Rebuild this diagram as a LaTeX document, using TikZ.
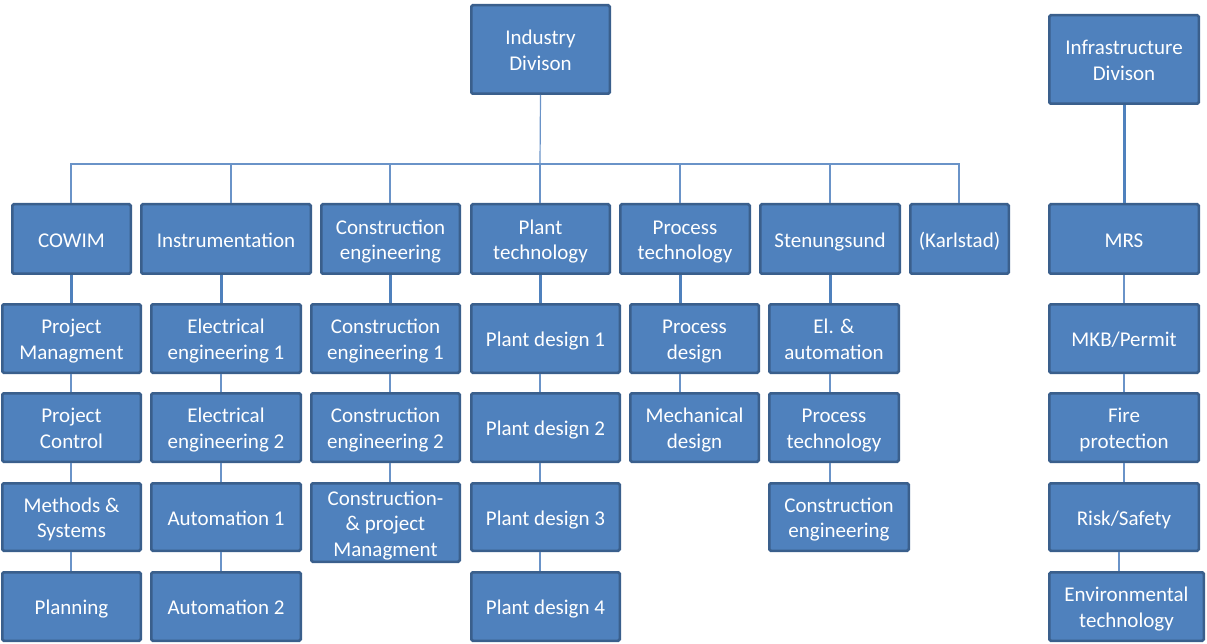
\documentclass[tikz,border=0pt]{standalone}
\usepackage{fontspec}
\setmainfont{Carlito}
\usetikzlibrary{calc}
\definecolor{boxfill}{HTML}{4F81BD}
\definecolor{boxline}{HTML}{3A5F8C}
\definecolor{linkthin}{HTML}{6A93C8}
\definecolor{linkthick}{HTML}{4F81BD}
\tikzset{
  unit/.style={draw=boxline, fill=boxfill, line width=2.5pt, rounded corners=1.5pt,
    text=white, align=center, inner sep=0pt,
    font=\fontsize{21}{25.5}\selectfont},
  thin link/.style={draw=linkthin, line width=1.2pt},
  thick link/.style={draw=linkthick, line width=3pt},
}
% box given by its left, top, right and bottom edges
\newcommand\orgbox[6]{%
  \node[unit, minimum width={(#4-#2)*1pt-2.5pt}, minimum height={(#5-#3)*1pt-2.5pt}]
    (#1) at ({(#2+#4)/2},{(#3+#5)/2})
    {\raisebox{-3pt}[\height][\depth]{\begin{tabular}{@{}c@{}}#6\end{tabular}}};}
\begin{document}
\begin{tikzpicture}[x=1pt,y=-1pt]
\useasboundingbox (0,0) rectangle (1207,644);

% divisions
\orgbox{ind}{470}{4}{611}{95}{Industry\\Divison}
\orgbox{infra}{1048}{14}{1200}{105}{Infrastructure\\Divison}

% departments
\orgbox{cowim}{11}{203}{132}{275}{COWIM}
\orgbox{instr}{140}{203}{312}{275}{Instrumentation}
\orgbox{conseng}{320}{203}{461}{275}{Construction\\engineering}
\orgbox{planttech}{470}{203}{611}{275}{Plant\\technology}
\orgbox{proctech}{619}{203}{751}{275}{Process\\technology}
\orgbox{sten}{759}{203}{901}{275}{Stenungsund}
\orgbox{karl}{909}{203}{1010}{275}{(Karlstad)}
\orgbox{mrs}{1048}{203}{1200}{275}{MRS}

% groups
\orgbox{a2}{1}{303}{142}{374}{Project\\Managment}
\orgbox{a3}{1}{392}{142}{463}{Project\\Control}
\orgbox{a4}{1}{482}{142}{552}{Methods \&\\Systems}
\orgbox{a5}{1}{571}{142}{642}{Planning}

\orgbox{b2}{150}{303}{302}{374}{Electrical\\engineering 1}
\orgbox{b3}{150}{392}{302}{463}{Electrical\\engineering 2}
\orgbox{b4}{150}{482}{302}{552}{Automation 1}
\orgbox{b5}{150}{571}{302}{642}{Automation 2}

\orgbox{c2}{310}{303}{461}{374}{Construction\\engineering 1}
\orgbox{c3}{310}{392}{461}{463}{Construction\\engineering 2}
\orgbox{c4}{310}{482}{461}{563}{Construction-\\\& project\\Managment}

\orgbox{d2}{470}{303}{621}{374}{Plant design 1}
\orgbox{d3}{470}{392}{621}{463}{Plant design 2}
\orgbox{d4}{470}{482}{621}{552}{Plant design 3}
\orgbox{d5}{470}{571}{621}{642}{Plant design 4}

\orgbox{e2}{629}{303}{760}{374}{Process\\design}
\orgbox{e3}{629}{392}{760}{463}{Mechanical\\design}

\orgbox{f2}{768}{303}{900}{374}{El. \&\\automation}
\orgbox{f3}{768}{392}{900}{463}{Process\\technology}
\orgbox{f4}{768}{482}{910}{552}{Construction\\engineering}

\orgbox{g2}{1048}{303}{1200}{374}{MKB/Permit}
\orgbox{g3}{1048}{392}{1200}{463}{Fire\\protection}
\orgbox{g4}{1048}{482}{1200}{552}{Risk/Safety}
\orgbox{g5}{1048}{571}{1205}{642}{Environmental\\technology}

% drop positions from the bus
\coordinate (bus) at (540,164);
\coordinate (dA) at (71,0);
\coordinate (dB) at (231,0);
\coordinate (dC) at (390,0);
\coordinate (dD) at (540,0);
\coordinate (dE) at (680,0);
\coordinate (dF) at (830,0);
\coordinate (dK) at (959,0);
% column lines
\coordinate (xA) at (71,0);
\coordinate (xB) at (221,0);
\coordinate (xC) at (390,0);
\coordinate (xD) at (540,0);
\coordinate (xE) at (680,0);
\coordinate (xF) at (830,0);
\coordinate (xG) at (1124,0);
\coordinate (xH) at (1119,0);

% industry bus
\draw[thin link] (ind.south) -- (bus);
\draw[thin link] (bus) -| (cowim.north -| dA);
\draw[thin link] (bus) -| (instr.north -| dB);
\draw[thin link] (bus) -| (conseng.north -| dC);
\draw[thin link] (bus) -- (planttech.north -| dD);
\draw[thin link] (bus) -| (proctech.north -| dE);
\draw[thin link] (bus) -| (sten.north -| dF);
\draw[thin link] (bus) -| (karl.north -| dK);

% department to first group
\draw[thick link] (cowim.south -| xA) -- (a2.north -| xA);
\draw[thick link] (instr.south -| xB) -- (b2.north -| xB);
\draw[thick link] (conseng.south -| xC) -- (c2.north -| xC);
\draw[thick link] (planttech.south -| xD) -- (d2.north -| xD);
\draw[thick link] (proctech.south -| xE) -- (e2.north -| xE);
\draw[thick link] (sten.south -| xF) -- (f2.north -| xF);
\draw[thick link] (infra.south -| xG) -- (mrs.north -| xG);

% chains inside columns
\draw[thin link] (a2.south -| xA) -- (a3.north -| xA);
\draw[thin link] (a3.south -| xA) -- (a4.north -| xA);
\draw[thin link] (a4.south -| xA) -- (a5.north -| xA);
\draw[thin link] (b2.south -| xB) -- (b3.north -| xB);
\draw[thin link] (b3.south -| xB) -- (b4.north -| xB);
\draw[thin link] (b4.south -| xB) -- (b5.north -| xB);
\draw[thin link] (c2.south -| xC) -- (c3.north -| xC);
\draw[thin link] (c3.south -| xC) -- (c4.north -| xC);
\draw[thin link] (d2.south -| xD) -- (d3.north -| xD);
\draw[thin link] (d3.south -| xD) -- (d4.north -| xD);
\draw[thin link] (d4.south -| xD) -- (d5.north -| xD);
\draw[thin link] (e2.south -| xE) -- (e3.north -| xE);
\draw[thin link] (f2.south -| xF) -- (f3.north -| xF);
\draw[thin link] (f3.south -| xF) -- (f4.north -| xF);
\draw[thin link] (mrs.south -| xG) -- (g2.north -| xG);
\draw[thin link] (g2.south -| xG) -- (g3.north -| xG);
\draw[thin link] (g3.south -| xG) -- (g4.north -| xG);
\draw[thin link] (g4.south -| xH) -- (g5.north -| xH);
\end{tikzpicture}
\end{document}
